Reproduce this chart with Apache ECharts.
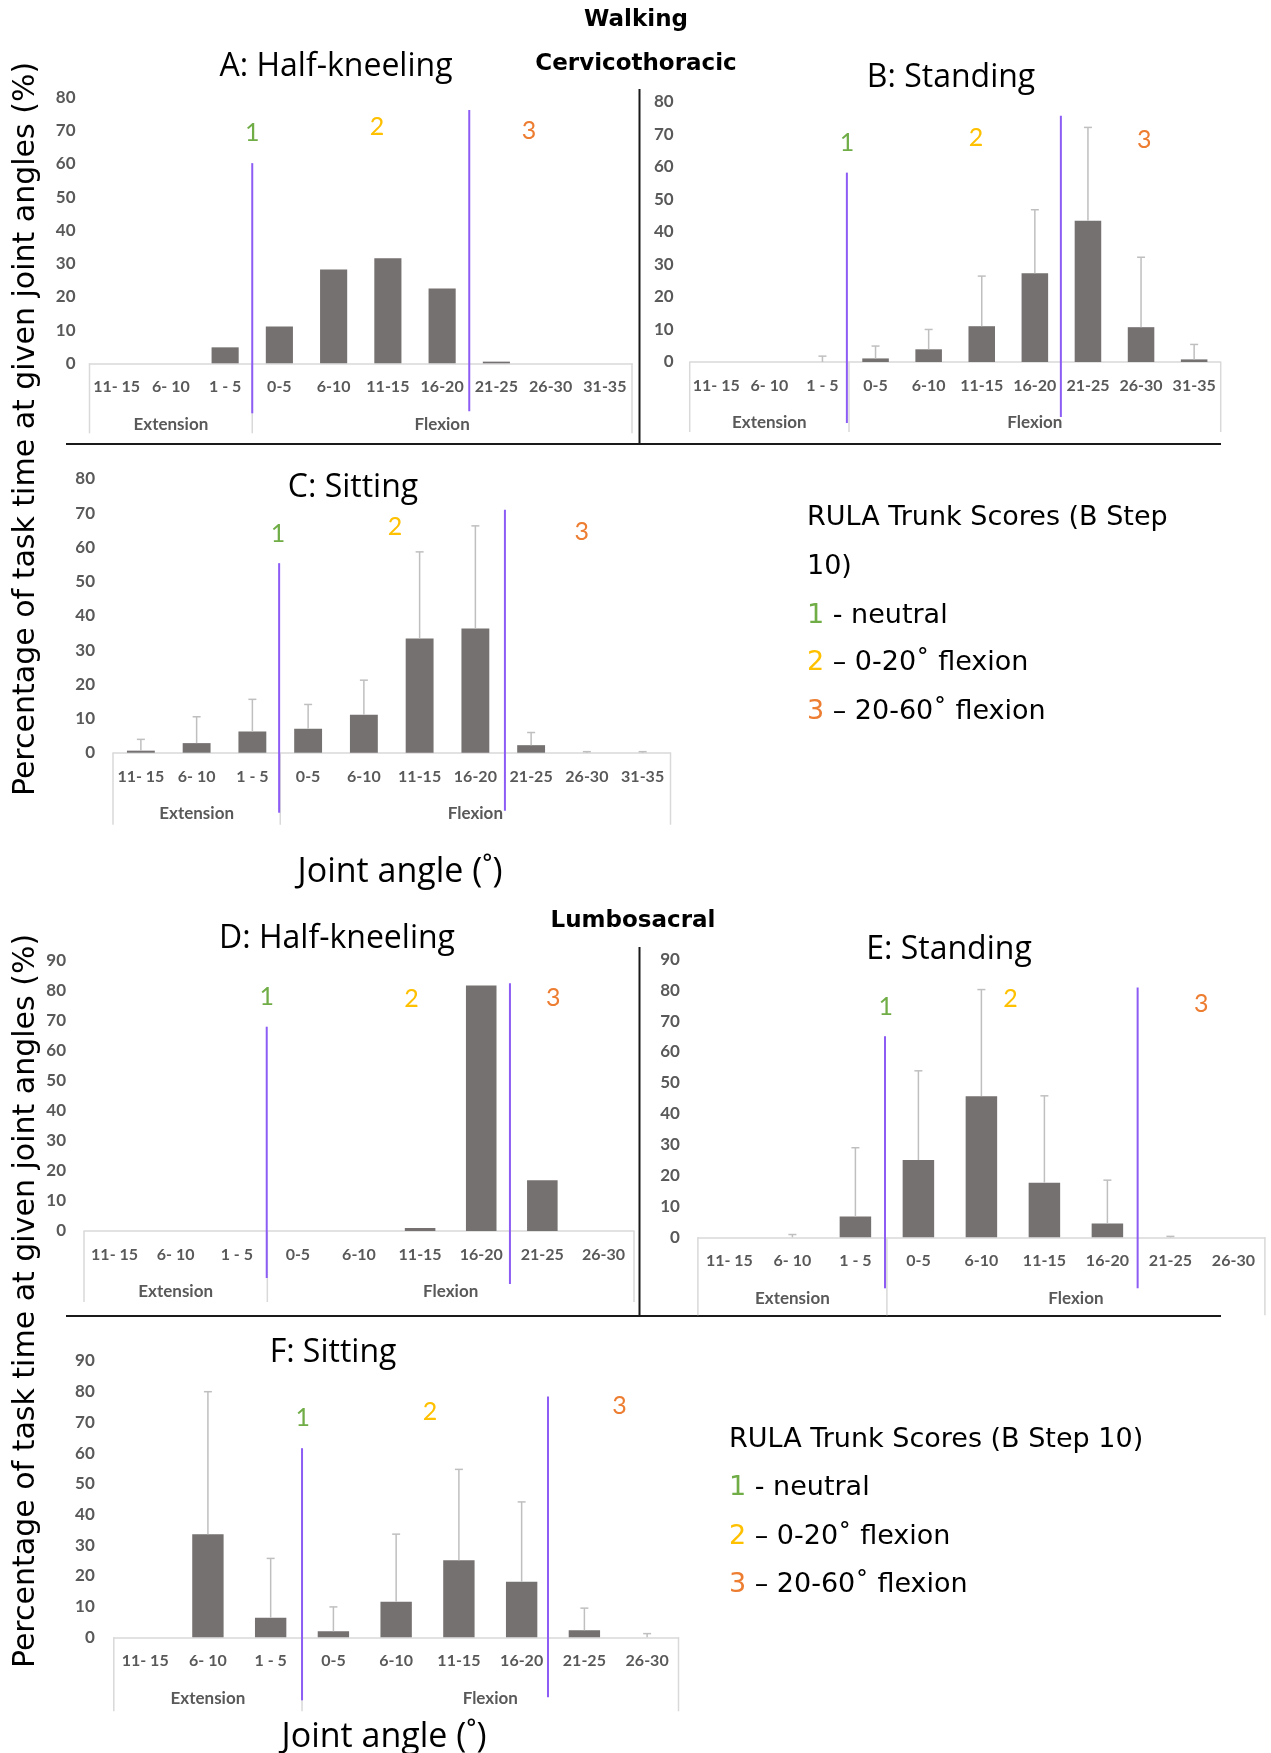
<!DOCTYPE html>
<html><head><meta charset="utf-8">
<script src="https://cdn.jsdelivr.net/npm/echarts@6/dist/echarts.min.js"></script>
<style>html,body{margin:0;padding:0;background:#fff}#c{width:1271px;height:1753px}</style>
</head><body><div id="c"></div>
<script>
// ---------- DATA ----------
const catsCT = ['11- 15','6- 10','1 - 5','0-5','6-10','11-15','16-20','21-25','26-30','31-35'];
const catsLS = ['11- 15','6- 10','1 - 5','0-5','6-10','11-15','16-20','21-25','26-30'];
const groupNames = ['Extension','Flexion'];
const extensionCount = 3;
const zoneNames = ['1','2','3'];

// Cervicothoracic (mean % of task time, and mean+SD upper error limit)
const meanA  = [0, 0, 4.8, 11.1, 28.2, 31.6, 22.5, 0.5, 0, 0];
const upperA = [null, null, null, null, null, null, null, null, null, null];
const meanB  = [0, 0, 0, 1.1, 3.9, 11.0, 27.3, 43.4, 10.7, 0.8];
const upperB = [null, null, 1.8, 4.9, 10.0, 26.4, 46.8, 72.1, 32.2, 5.4];
const meanC  = [0.6, 2.8, 6.2, 7.0, 11.1, 33.4, 36.3, 2.2, 0, 0];
const upperC = [3.9, 10.5, 15.6, 14.1, 21.2, 58.7, 66.3, 5.9, 0.3, 0.3];
// Lumbosacral
const meanD  = [0, 0, 0, 0, 0, 1.0, 81.8, 16.9, 0];
const upperD = [null, null, null, null, null, null, null, null, null];
const meanE  = [0, 0, 6.7, 25.0, 45.7, 17.7, 4.5, 0, 0];
const upperE = [null, 0.9, 29.0, 53.9, 80.2, 45.8, 18.5, 0.3, null];
const meanF  = [0, 33.6, 6.4, 1.95, 11.6, 25.1, 18.1, 2.3, 0];
const upperF = [null, 80.0, 25.7, 9.9, 33.6, 54.7, 44.1, 9.5, 1.2];

const yMaxCT = 80;
const yMaxLS = 90;
const yInterval = 10;

// RULA zone boundary lines (category position, top value) and zone number labels (position, value)
const zoneLineA = [2.5, 6.5], zoneTopA = [60.2, 76.2], zoneLblA = [2.5, 4.8, 7.6], zoneLblValA = [69.3, 71.0, 69.9];
const zoneLineB = [2.46, 6.49], zoneTopB = [58.2, 75.7], zoneLblB = [2.46, 4.89, 8.06], zoneLblValB = [67.4, 68.9, 68.3];
const zoneLineC = [2.48, 6.53], zoneTopC = [55.4, 71.0], zoneLblC = [2.46, 4.56, 7.91], zoneLblValC = [64.0, 65.9, 64.6];
const zoneLineD = [2.49, 6.47], zoneTopD = [68.1, 82.6], zoneLblD = [2.49, 4.86, 7.18], zoneLblValD = [78.1, 77.3, 77.8];
const zoneLineE = [2.47, 6.48], zoneTopE = [65.1, 80.9], zoneLblE = [2.48, 4.46, 7.49], zoneLblValE = [74.6, 77.2, 75.4];
const zoneLineF = [2.5, 6.42], zoneTopF = [61.6, 78.4], zoneLblF = [2.51, 4.54, 7.56], zoneLblValF = [71.3, 73.5, 75.3];

// ---------- LAYOUT / STYLE ----------
const BAR = '#767171', ERR = '#bfbfbf', PURPLE = '#8c5cf5', BOX = '#d9d9d9', TICK = '#595959';
const zoneColors = ['#70AD47', '#FFC000', '#ED7D31'];
const CAL = "Lato, 'Open Sans', sans-serif";
const TITLEF = "'Open Sans', Lato, sans-serif";
const VER = "'DejaVu Sans', Verdana, sans-serif";

const panels = [
  {cats: catsCT, mean: meanA, upper: upperA, yMax: yMaxCT, zl: zoneLineA, zt: zoneTopA, zp: zoneLblA, zv: zoneLblValA,
   L: {left: 89.5, top: 97.3, width: 542.5, height: 266, ym: 14, ext: [50, 48], box: 70, title: 'A: Half-kneeling', tx: 336, ty: 67}},
  {cats: catsCT, mean: meanB, upper: upperB, yMax: yMaxCT, zl: zoneLineB, zt: zoneTopB, zp: zoneLblB, zv: zoneLblValB,
   L: {left: 689.7, top: 101.7, width: 531, height: 260.3, ym: 16, ext: [61, 55], box: 70, title: 'B: Standing', tx: 951, ty: 78}},
  {cats: catsCT, mean: meanC, upper: upperC, yMax: yMaxCT, zl: zoneLineC, zt: zoneTopC, zp: zoneLblC, zv: zoneLblValC,
   L: {left: 113, top: 479, width: 557.5, height: 273.7, ym: 18, ext: [60, 58], box: 72, title: 'C: Sitting', tx: 353, ty: 488}},
  {cats: catsLS, mean: meanD, upper: upperD, yMax: yMaxLS, zl: zoneLineD, zt: zoneTopD, zp: zoneLblD, zv: zoneLblValD,
   L: {left: 84, top: 961, width: 550, height: 270, ym: 18, ext: [47, 53], box: 71, title: 'D: Half-kneeling', tx: 337, ty: 939}},
  {cats: catsLS, mean: meanE, upper: upperE, yMax: yMaxLS, zl: zoneLineE, zt: zoneTopE, zp: zoneLblE, zv: zoneLblValE,
   L: {left: 697.9, top: 959.3, width: 567, height: 278, ym: 18, ext: [51, 51], box: 78, title: 'E: Standing', tx: 949, ty: 950}},
  {cats: catsLS, mean: meanF, upper: upperF, yMax: yMaxLS, zl: zoneLineF, zt: zoneTopF, zp: zoneLblF, zv: zoneLblValF,
   L: {left: 113.8, top: 1361, width: 564.7, height: 276.3, ym: 19, ext: [63, 60], box: 74, title: 'F: Sitting', tx: 333, ty: 1353}}
];

const grid = [], xAxis = [], yAxis = [], series = [];
panels.forEach((p, k) => {
  const L = p.L, n = p.cats.length;
  grid.push({left: L.left, top: L.top, width: L.width, height: L.height, containLabel: false, outerBoundsMode: 'none'});
  xAxis.push({type: 'category', gridIndex: k, data: p.cats,
    axisLine: {show: true, lineStyle: {color: BOX, width: 1.5}}, axisTick: {show: false}, splitLine: {show: false},
    axisLabel: {interval: 0, margin: 16, color: TICK, fontFamily: CAL, fontWeight: 'bold', fontSize: 16, hideOverlap: false}});
  xAxis.push({type: 'value', gridIndex: k, min: -0.5, max: n - 0.5, show: false, splitLine: {show: false}});
  yAxis.push({type: 'value', gridIndex: k, min: 0, max: p.yMax, interval: yInterval,
    axisLine: {show: false}, axisTick: {show: false}, splitLine: {show: false},
    axisLabel: {margin: L.ym, color: TICK, fontFamily: CAL, fontWeight: 'bold', fontSize: 17}});
  const cx = 2 * k, vx = 2 * k + 1;
  series.push({type: 'bar', xAxisIndex: cx, yAxisIndex: k, data: p.mean, barWidth: '50%',
    itemStyle: {color: BAR}, silent: true, animation: false, z: 2});
  // error bars
  const errData = [];
  p.upper.forEach((u, i) => { if (u != null) errData.push([i, p.mean[i], u]); });
  series.push({type: 'custom', xAxisIndex: cx, yAxisIndex: k, data: errData, clip: false, silent: true, animation: false, z: 3,
    encode: {x: 0, y: [1, 2]},
    renderItem: (params, api) => {
      const a = api.coord([api.value(0), api.value(1)]);
      const b = api.coord([api.value(0), api.value(2)]);
      return {type: 'group', children: [
        {type: 'line', shape: {x1: a[0], y1: a[1], x2: b[0], y2: b[1]}, style: {stroke: ERR, lineWidth: 1.5}},
        {type: 'line', shape: {x1: b[0] - 4, y1: b[1], x2: b[0] + 4, y2: b[1]}, style: {stroke: ERR, lineWidth: 1.5}}
      ]};
    }});
  // multi-level category box + group labels
  series.push({type: 'custom', xAxisIndex: vx, yAxisIndex: k, data: [[-0.5, 0]], clip: false, silent: true, animation: false, z: 1,
    renderItem: (params, api) => {
      const bounds = [-0.5, extensionCount - 0.5, n - 0.5];
      const ch = [];
      bounds.forEach(b => {
        const pt = api.coord([b, 0]);
        ch.push({type: 'line', shape: {x1: pt[0], y1: pt[1], x2: pt[0], y2: pt[1] + L.box}, style: {stroke: BOX, lineWidth: 1.5}});
      });
      groupNames.forEach((g, i) => {
        const mid = (bounds[i] + bounds[i + 1]) / 2;
        const pt = api.coord([mid, 0]);
        ch.push({type: 'text', x: pt[0], y: pt[1] + 61, style: {text: g, fill: TICK, fontFamily: CAL, fontWeight: 'bold', fontSize: 17, align: 'center', verticalAlign: 'middle'}});
      });
      return {type: 'group', children: ch};
    }});
  // RULA zone boundary lines
  series.push({type: 'custom', xAxisIndex: vx, yAxisIndex: k, data: p.zl.map((x, i) => [x, p.zt[i]]), clip: false, silent: true, animation: false, z: 6,
    renderItem: (params, api) => {
      const t = api.coord([api.value(0), api.value(1)]);
      const b = api.coord([api.value(0), 0]);
      return {type: 'line', shape: {x1: t[0], y1: t[1], x2: t[0], y2: b[1] + L.ext[params.dataIndex]}, style: {stroke: PURPLE, lineWidth: 2}};
    }});
  // RULA zone numbers
  series.push({type: 'custom', xAxisIndex: vx, yAxisIndex: k, data: p.zp.map((x, i) => [x, p.zv[i]]), clip: false, silent: true, animation: false, z: 6,
    renderItem: (params, api) => {
      const pt = api.coord([api.value(0), api.value(1)]);
      return {type: 'text', x: pt[0], y: pt[1], style: {text: zoneNames[params.dataIndex], fill: zoneColors[params.dataIndex], fontFamily: CAL, fontSize: 25, align: 'center', verticalAlign: 'middle'}};
    }});
});

// ---------- TEXT / DECOR ----------
const graphic = [];
function txt(x, y, text, font, size, weight, extra) {
  graphic.push(Object.assign({type: 'text', x: x, y: y, silent: true,
    style: {text: text, fill: '#000', fontFamily: font, fontSize: size, fontWeight: weight || 'normal', align: 'center', verticalAlign: 'middle'}}, extra || {}));
}
function hline(x1, y1, x2, y2) {
  graphic.push({type: 'line', silent: true, shape: {x1, y1, x2, y2}, style: {stroke: '#1a1a1a', lineWidth: 2}});
}
txt(636, 20, 'Walking', VER, 23, 'bold');
txt(636, 64, 'Cervicothoracic', VER, 23, 'bold');
txt(633, 921, 'Lumbosacral', VER, 23, 'bold');
panels.forEach(p => txt(p.L.tx, p.L.ty, p.L.title, TITLEF, 32));
txt(26, 429, 'Percentage of task time at given joint angles (%)', VER, 30, 'normal', {rotation: Math.PI / 2});
txt(26, 1301, 'Percentage of task time at given joint angles (%)', VER, 30, 'normal', {rotation: Math.PI / 2});
txt(400, 872, 'Joint angle (˚)', TITLEF, 34);
txt(384, 1737, 'Joint angle (˚)', TITLEF, 34);
hline(639.5, 89, 639.5, 444);
hline(66, 444, 1221, 444);
hline(639.5, 947, 639.5, 1316);
hline(66, 1316, 1221, 1316);

function legend(x, ys, lines) {
  lines.forEach((ln, i) => {
    graphic.push({type: 'text', x: x, y: ys[i], silent: true,
      style: {text: ln, fontFamily: VER, fontSize: 27, fill: '#000', align: 'left', verticalAlign: 'middle',
        rich: {g: {fill: zoneColors[0], fontFamily: VER, fontSize: 27}, y: {fill: zoneColors[1], fontFamily: VER, fontSize: 27}, o: {fill: zoneColors[2], fontFamily: VER, fontSize: 27}, t: {fill: '#000', fontFamily: VER, fontSize: 27}}}});
  });
}
legend(807, [518, 567, 616, 663, 712], ['RULA Trunk Scores (B Step', '10)', '{g|1}{t| - neutral}', '{y|2}{t| – 0-20˚ flexion}', '{o|3}{t| – 20-60˚ flexion}']);
legend(729, [1440, 1488, 1537, 1585], ['RULA Trunk Scores (B Step 10)', '{g|1}{t| - neutral}', '{y|2}{t| – 0-20˚ flexion}', '{o|3}{t| – 20-60˚ flexion}']);

const chart = echarts.init(document.getElementById('c'), null, {renderer: 'canvas', width: 1271, height: 1753});
chart.setOption({animation: false, backgroundColor: '#fff', grid, xAxis, yAxis, series, graphic});
</script>
</body></html>
